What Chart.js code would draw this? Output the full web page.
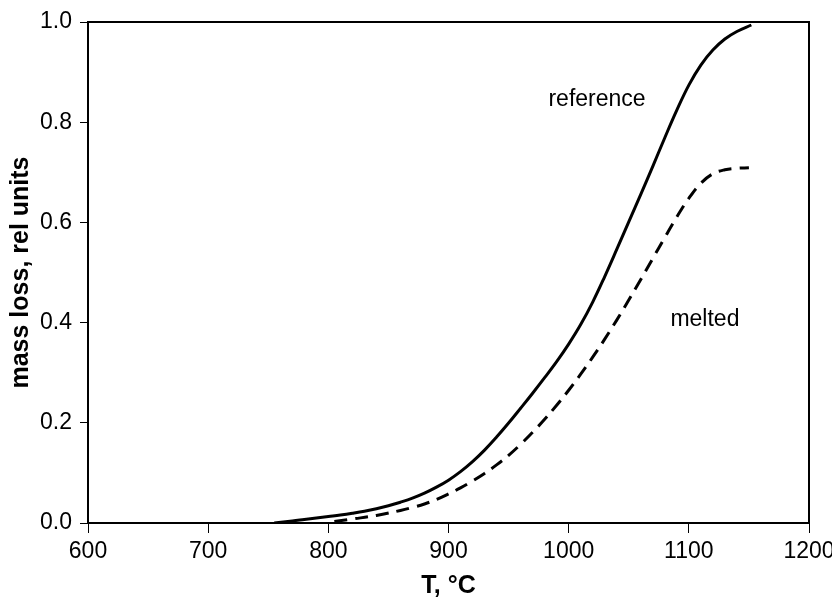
<!DOCTYPE html>
<html>
<head>
<meta charset="utf-8">
<script src="https://cdn.jsdelivr.net/npm/chart.js@4"></script>
<style>
  body { margin: 0; background: #fff; }
  #wrap { width: 832px; height: 599px; }
</style>
</head>
<body>
<div id="wrap"><canvas id="tgaChart" width="832" height="599"></canvas></div>
<script>
// reference sample
const refTemp = [755, 770, 780, 790, 800, 810, 820, 830, 840, 850, 860, 870, 880, 890, 900, 910, 920, 930, 940, 950, 960, 970, 980, 990, 1000, 1010, 1020, 1030, 1040, 1050, 1060, 1070, 1080, 1090, 1100, 1110, 1120, 1130, 1140, 1152];
const refLoss = [0, 0.004, 0.007, 0.010, 0.013, 0.016, 0.0195, 0.0235, 0.0285, 0.0345, 0.0415, 0.0495, 0.0595, 0.0715, 0.0855, 0.1025, 0.1225, 0.1455, 0.1715, 0.1995, 0.229, 0.259, 0.290, 0.322, 0.357, 0.396, 0.441, 0.492, 0.546, 0.601, 0.656, 0.712, 0.769, 0.824, 0.874, 0.914, 0.944, 0.966, 0.981, 0.994];

// melted sample
const meltTemp = [805, 820, 840, 860, 870, 880, 890, 900, 910, 920, 930, 940, 950, 960, 970, 980, 990, 1000, 1010, 1020, 1030, 1040, 1050, 1060, 1070, 1080, 1090, 1100, 1110, 1120, 1130, 1140, 1150];
const meltLoss = [0.003, 0.008, 0.015, 0.025, 0.031, 0.038, 0.047, 0.058, 0.070, 0.084, 0.099, 0.116, 0.135, 0.157, 0.181, 0.207, 0.235, 0.265, 0.297, 0.331, 0.367, 0.405, 0.445, 0.486, 0.528, 0.570, 0.611, 0.648, 0.678, 0.697, 0.705, 0.708, 0.709];

const curveNames = ['reference', 'melted'];
// where the curve names sit, in data units (T, mass loss)
const nameAt = [[1023.6, 0.844], [1113.4, 0.405]];

const xTicks = [600, 700, 800, 900, 1000, 1100, 1200];
const yTicks = [0.0, 0.2, 0.4, 0.6, 0.8, 1.0];

const toPoints = (xs, ys) => xs.map((x, i) => ({x: x, y: ys[i]}));

const frameAndNames = {
  id: 'frameAndNames',
  afterDatasetsDraw(chart) {
    const {ctx, chartArea, scales} = chart;
    ctx.save();
    ctx.strokeStyle = '#000';
    ctx.lineWidth = 2;
    ctx.strokeRect(chartArea.left, chartArea.top, chartArea.right - chartArea.left, chartArea.bottom - chartArea.top);
    ctx.fillStyle = '#000';
    ctx.font = '23px "Liberation Sans", Arial, sans-serif';
    ctx.textAlign = 'center';
    ctx.textBaseline = 'middle';
    curveNames.forEach((name, i) => {
      ctx.fillText(name, scales.x.getPixelForValue(nameAt[i][0]), scales.y.getPixelForValue(nameAt[i][1]));
    });
    ctx.restore();
  }
};

new Chart(document.getElementById('tgaChart'), {
  type: 'line',
  data: {
    datasets: [{
      label: curveNames[0],
      data: toPoints(refTemp, refLoss),
      borderColor: '#000',
      borderWidth: 3,
      pointRadius: 0,
      fill: false,
      tension: 0.4
    }, {
      label: curveNames[1],
      data: toPoints(meltTemp, meltLoss),
      borderColor: '#000',
      borderWidth: 3,
      borderDash: [13, 8],
      pointRadius: 0,
      fill: false,
      tension: 0.4
    }]
  },
  options: {
    responsive: false,
    animation: false,
    layout: { padding: { left: 0, right: 23, top: 22, bottom: 0 } },
    plugins: { legend: { display: false }, tooltip: { enabled: false } },
    scales: {
      x: {
        type: 'linear',
        min: 600,
        max: 1200,
        afterBuildTicks: (scale) => { scale.ticks = xTicks.map(v => ({value: v})); },
        afterFit: (scale) => { scale.height = 76; scale.paddingLeft = 0; scale.paddingRight = 0; },
        border: { display: true, color: '#000', width: 2 },
        grid: { drawOnChartArea: false, drawTicks: true, tickLength: 10, tickColor: '#000', tickWidth: 1 },
        ticks: {
          color: '#000',
          padding: 5,
          maxRotation: 0,
          callback: (v) => String(v),
          font: { family: '"Liberation Sans", Arial, sans-serif', size: 23 }
        },
        title: {
          display: true,
          text: 'T, °C',
          color: '#000',
          padding: 0,
          font: { family: '"Liberation Sans", Arial, sans-serif', size: 25, weight: 'bold', lineHeight: 1 }
        }
      },
      y: {
        min: 0,
        max: 1,
        afterBuildTicks: (scale) => { scale.ticks = yTicks.map(v => ({value: v})); },
        afterFit: (scale) => { scale.width = 88; },
        border: { display: true, color: '#000', width: 2 },
        grid: { drawOnChartArea: false, drawTicks: true, tickLength: 8, tickColor: '#000', tickWidth: 1 },
        ticks: {
          color: '#000',
          padding: 8,
          callback: (v) => Number(v).toFixed(1),
          font: { family: '"Liberation Sans", Arial, sans-serif', size: 23 }
        },
        title: {
          display: true,
          text: 'mass loss, rel units',
          color: '#000',
          padding: { top: 9, bottom: 0 },
          font: { family: '"Liberation Sans", Arial, sans-serif', size: 25, weight: 'bold', lineHeight: 1 }
        }
      }
    }
  },
  plugins: [frameAndNames]
});
</script>
</body>
</html>
